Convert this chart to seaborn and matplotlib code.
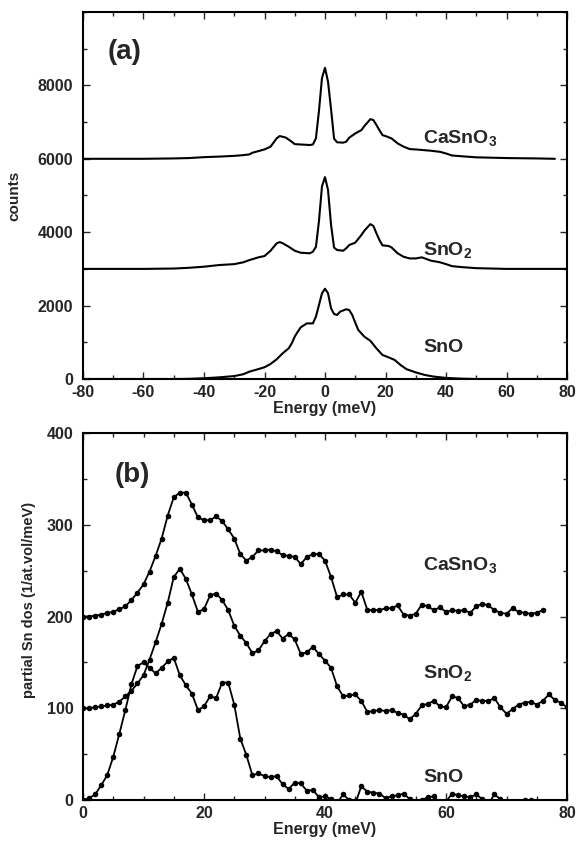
import numpy as np
import pandas as pd
import matplotlib
matplotlib.use("Agg")
import matplotlib.pyplot as plt
from matplotlib.ticker import MultipleLocator
import seaborn as sns

# ---------------- Panel (a): raw spectra (counts) ----------------
casno3_a_x = [-80, -60, -50, -45, -40, -35, -30, -27, -25, -24, -22, -20, -18, -16, -15,
              -13, -11, -10, -8, -5, -4, -3, -2, -1, 0, 1, 2, 3, 4, 6,
              7, 8, 10, 12, 13, 15, 16, 17, 18, 19, 20, 22, 24, 26, 28,
              30, 35, 38, 40, 42, 45, 50, 60, 70, 76]
casno3_a_y = [6000, 6000, 6010, 6020, 6045, 6060, 6080, 6100, 6120, 6165, 6210, 6255, 6330, 6555, 6620,
              6580, 6465, 6400, 6390, 6375, 6390, 6560, 7300, 8200, 8480, 8100, 7350, 6550, 6450, 6440,
              6465, 6575, 6690, 6780, 6890, 7080, 7055, 6920, 6780, 6645, 6620, 6555, 6420, 6330, 6265,
              6255, 6220, 6190, 6145, 6090, 6070, 6040, 6020, 6010, 6000]

sno2_a_x = [-80, -60, -50, -45, -40, -35, -30, -27, -25, -22, -20, -18, -16, -15, -14,
            -12, -10, -8, -5, -4, -3, -2, -1, 0, 1, 2, 3, 4, 6, 7,
            8, 10, 12, 13, 15, 16, 17, 18, 19, 21, 22, 24, 26, 28, 30,
            32, 35, 38, 40, 42, 45, 50, 60, 70, 80]
sno2_a_y = [3000, 3000, 3010, 3030, 3060, 3105, 3130, 3180, 3240, 3315, 3350, 3495, 3695, 3730, 3700,
            3605, 3495, 3440, 3425, 3470, 3600, 4300, 5250, 5500, 5150, 4200, 3580, 3515, 3495, 3560,
            3650, 3715, 3920, 4040, 4220, 4170, 3970, 3785, 3640, 3625, 3585, 3425, 3330, 3285, 3285,
            3315, 3225, 3180, 3130, 3075, 3050, 3020, 3000, 3000, 3000]

sno_a_x = [-80, -60, -50, -45, -40, -35, -30, -27, -25, -22, -20, -18, -16, -14, -12,
           -11, -10, -9, -8, -6, -4, -3, -2, -1, 0, 1, 2, 3, 4, 5,
           7, 8, 9, 10, 11, 13, 15, 17, 19, 21, 23, 25, 27, 30, 33,
           36, 40, 45, 50, 60, 70, 80]
sno_a_y = [0, 0, 0, 5, 20, 45, 80, 130, 200, 270, 320, 410, 535, 700, 835,
           970, 1155, 1290, 1410, 1515, 1515, 1700, 2015, 2335, 2460, 2335, 1925, 1770, 1745, 1835,
           1900, 1880, 1745, 1535, 1335, 1155, 1040, 835, 655, 590, 520, 380, 265, 180, 110,
           65, 30, 10, 0, 0, 0, 0]

# ---------------- Panel (b): partial Sn DOS ----------------
casno3_b = [200, 200, 201, 202, 204, 205, 208, 211, 218, 226, 235, 249, 266, 285, 310,
            330, 335, 335, 322, 308, 305, 305, 309, 304, 295, 285, 268, 261, 265, 272,
            272, 273, 271, 267, 266, 265, 257, 265, 268, 268, 261, 243, 221, 224, 224,
            215, 227, 207, 207, 207, 209, 209, 212, 202, 201, 203, 213, 211, 207, 210,
            205, 207, 206, 207, 204, 211, 214, 212, 207, 204, 203, 209, 205, 204, 203,
            204, 207]
sno2_b = [100, 100, 101, 102, 103, 104, 107, 113, 119, 127, 136, 153, 172, 192, 215,
          243, 252, 241, 224, 205, 208, 223, 225, 218, 207, 190, 179, 171, 160, 163,
          173, 181, 184, 176, 181, 175, 159, 161, 167, 159, 152, 144, 124, 113, 114,
          115, 108, 96, 97, 98, 97, 98, 95, 93, 88, 94, 103, 105, 108, 102,
          101, 113, 111, 102, 104, 109, 108, 108, 111, 101, 94, 99, 104, 106, 107,
          104, 108, 115, 109, 106, 101]
sno_b = [0, 2, 6, 16, 27, 47, 72, 98, 126, 146, 150, 144, 138, 144, 151,
         155, 136, 125, 116, 98, 102, 113, 111, 128, 128, 104, 67, 49, 27, 29,
         26, 25, 26, 17, 12, 19, 18, 10, 11, 3, 4, 1, -3, 6, 0,
         -4, 15, 9, 8, 7, 2, 4, 5, 7, 1, -3, 0, 3, 4, -4,
         -2, 7, 5, 4, 3, 6, 1, -4, 6, 1, -5, -6, -3, 0, 0]

labels = ["CaSnO$_\\mathbf{3}$", "SnO$_\\mathbf{2}$", "SnO"]

sns.set_theme(style="ticks")
plt.rcParams["font.family"] = ["Liberation Sans", "DejaVu Sans"]
plt.rcParams["font.weight"] = "bold"
plt.rcParams["axes.unicode_minus"] = False
plt.rcParams["mathtext.fontset"] = "custom"
plt.rcParams["mathtext.rm"] = "Liberation Sans:bold"
plt.rcParams["mathtext.bf"] = "Liberation Sans:bold"
plt.rcParams["mathtext.default"] = "bf"

fig = plt.figure(figsize=(5.77, 8.47), dpi=100)
W, H = 577, 847
axA = fig.add_axes([83 / W, 1 - 379 / H, (567 - 83) / W, (379 - 12) / H])
axB = fig.add_axes([83 / W, 1 - 800 / H, (567 - 83) / W, (800 - 433) / H])

# panel a
for xs, ys in [(casno3_a_x, casno3_a_y), (sno2_a_x, sno2_a_y), (sno_a_x, sno_a_y)]:
    df = pd.DataFrame({"E": xs, "c": ys})
    sns.lineplot(data=df, x="E", y="c", ax=axA, color="black", lw=1.5, sort=False)

axA.set_xlim(-80, 80)
axA.set_ylim(0, 10000)
axA.set_xticks([-80, -60, -40, -20, 0, 20, 40, 60, 80])
axA.set_yticks([0, 2000, 4000, 6000, 8000])
axA.xaxis.set_minor_locator(MultipleLocator(10))
axA.yaxis.set_minor_locator(MultipleLocator(1000))
axA.set_xlabel("Energy (meV)", fontsize=11.5, fontweight="bold", labelpad=1)
axA.set_ylabel("counts", fontsize=11, fontweight="bold")
axA.yaxis.set_label_coords(-0.128, 0.5)
axA.text(-72, 8900, "(a)", fontsize=20, fontweight="bold", va="center")
axA.text(32.5, 6570, labels[0], fontsize=14, fontweight="bold", va="center")
axA.text(32.5, 3515, labels[1], fontsize=14, fontweight="bold", va="center")
axA.text(32.5, 870, labels[2], fontsize=14, fontweight="bold", va="center")

# panel b
eb = np.arange(0, 81)
for vals in [casno3_b, sno2_b, sno_b]:
    df = pd.DataFrame({"E": eb[:len(vals)], "d": vals})
    sns.lineplot(data=df, x="E", y="d", ax=axB, color="black", lw=1.3,
                 marker="o", markersize=4, markeredgewidth=0, sort=False)

axB.set_xlim(0, 80)
axB.set_ylim(0, 400)
axB.set_xticks([0, 20, 40, 60, 80])
axB.set_yticks([0, 100, 200, 300, 400])
axB.xaxis.set_minor_locator(MultipleLocator(5))
axB.yaxis.set_minor_locator(MultipleLocator(50))
axB.set_xlabel("Energy (meV)", fontsize=11.5, fontweight="bold", labelpad=1)
axB.set_ylabel("partial Sn dos (1/at.vol/meV)", fontsize=10.5, fontweight="bold")
axB.yaxis.set_label_coords(-0.098, 0.545)
axB.text(5.3, 354, "(b)", fontsize=20, fontweight="bold", va="center")
axB.text(56.2, 256, labels[0], fontsize=14, fontweight="bold", va="center")
axB.text(56.2, 138, labels[1], fontsize=14, fontweight="bold", va="center")
axB.text(56.2, 25, labels[2], fontsize=14, fontweight="bold", va="center")

for ax in (axA, axB):
    for s in ax.spines.values():
        s.set_linewidth(1.5)
        s.set_color("black")
    ax.tick_params(which="both", direction="in", top=True, right=True, width=1.0,
                   labelsize=11.5)
    ax.tick_params(axis="y", which="major", pad=7)
    ax.tick_params(axis="x", which="major", pad=4)
    ax.tick_params(which="major", length=5)
    ax.tick_params(which="minor", length=3)
    for lab in ax.get_xticklabels() + ax.get_yticklabels():
        lab.set_fontweight("bold")

fig.savefig("out.png", dpi=100)
